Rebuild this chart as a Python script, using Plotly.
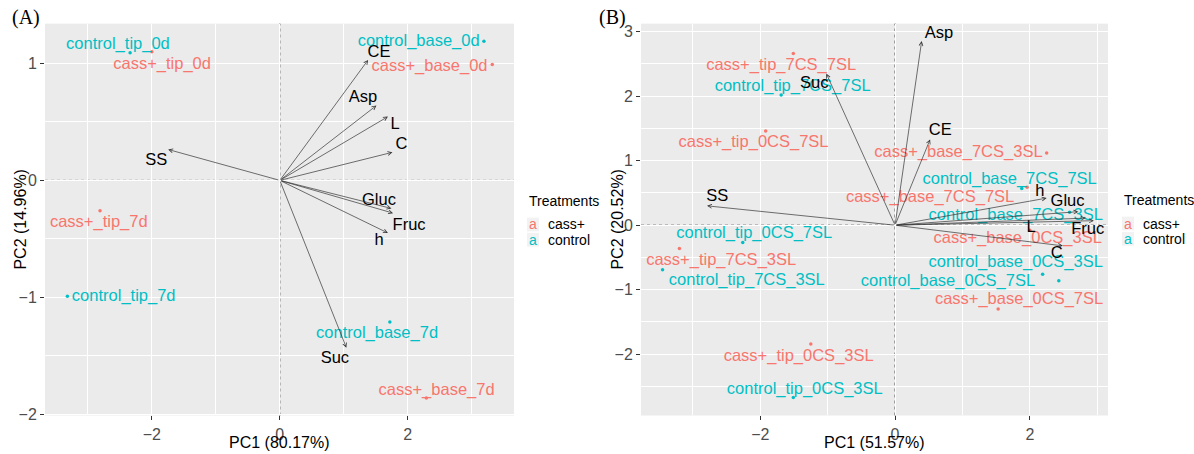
import plotly.graph_objects as go

# ---------------- Panel A data ----------------
a_names = ["control_tip_0d", "cass+_tip_0d", "control_base_0d", "cass+_base_0d",
           "cass+_tip_7d", "control_tip_7d", "control_base_7d", "cass+_base_7d"]
a_group = ["control", "cass+", "control", "cass+", "cass+", "control", "control", "cass+"]
a_pc1 = [-2.34, -2.00, 3.19, 3.32, -2.81, -3.32, 1.72, 2.29]
a_pc2 = [1.09, 1.10, 1.19, 0.99, -0.26, -0.99, -1.21, -1.86]
a_lab_x = [-2.53, -1.84, 2.17, 2.34, -2.83, -2.44, 1.52, 2.45]
a_lab_y = [1.16, 0.99, 1.18, 0.97, -0.36, -1.00, -1.31, -1.80]

a_vars = ["SS", "CE", "Asp", "L", "C", "Gluc", "Fruc", "h", "Suc"]
a_var_x = [-1.745, 1.38, 1.51, 1.69, 1.76, 1.745, 1.77, 1.69, 1.04]
a_var_y = [0.264, 1.03, 0.64, 0.545, 0.24, -0.24, -0.28, -0.45, -1.43]
a_var_lab_x = [-1.93, 1.55, 1.30, 1.80, 1.90, 1.55, 2.02, 1.55, 0.86]
a_var_lab_y = [0.17, 1.09, 0.705, 0.475, 0.306, -0.177, -0.39, -0.52, -1.525]

# ---------------- Panel B data ----------------
b_names = ["cass+_tip_7CS_7SL", "control_tip_7CS_7SL", "cass+_tip_0CS_7SL",
           "cass+_base_7CS_3SL", "control_base_7CS_7SL", "cass+_base_7CS_7SL",
           "control_base_7CS_3SL", "cass+_base_0CS_3SL", "control_base_0CS_3SL",
           "control_base_0CS_7SL", "cass+_base_0CS_7SL", "control_tip_0CS_7SL",
           "cass+_tip_7CS_3SL", "control_tip_7CS_3SL", "cass+_tip_0CS_3SL",
           "control_tip_0CS_3SL"]
b_group = ["cass+", "control", "cass+", "cass+", "control", "cass+", "control", "cass+",
           "control", "control", "cass+", "control", "cass+", "control", "cass+", "control"]
b_pc1 = [-1.51, -1.69, -1.92, 2.25, 1.88, 1.96, 2.59, 2.00, 2.19, 2.43, 1.53,
         -2.26, -3.20, -3.45, -1.25, -1.51]
b_pc2 = [2.66, 2.02, 1.46, 1.12, 0.57, 0.59, 0.20, -0.08, -0.76, -0.86, -1.30,
         -0.27, -0.36, -0.69, -1.84, -2.67]
b_lab_x = [-1.69, -1.52, -2.10, 0.94, 1.70, 0.52, 1.79, 1.82, 1.79, 0.785, 1.84,
           -2.09, -2.58, -2.20, -1.43, -1.34]
b_lab_y = [2.47, 2.14, 1.27, 1.12, 0.705, 0.42, 0.15, -0.21, -0.59, -0.88, -1.16,
           -0.14, -0.55, -0.87, -2.04, -2.56]

b_vars = ["Asp", "CE", "Suc", "SS", "h", "Gluc", "L", "Fruc", "C"]
b_var_x = [0.395, 0.52, -1.02, -2.79, 2.25, 2.72, 2.83, 2.95, 2.49]
b_var_y = [2.855, 1.33, 2.35, 0.30, 0.42, 0.21, 0.11, 0.07, -0.32]
b_var_lab_x = [0.65, 0.67, -1.20, -2.64, 2.15, 2.56, 2.02, 2.86, 2.40]
b_var_lab_y = [2.96, 1.46, 2.195, 0.44, 0.52, 0.366, -0.04, -0.07, -0.45]

# axis titles / ticks
a_xtitle = "PC1 (80.17%)"
a_ytitle = "PC2 (14.96%)"
b_xtitle = "PC1 (51.57%)"
b_ytitle = "PC2 (20.52%)"
groups = ["cass+", "control"]

COLORS = {"cass+": "#F8766D", "control": "#00BFC4"}
FONT = "Liberation Sans, Arial, sans-serif"
W, H = 1194, 454

fig = go.Figure()


def add_panel(names, grp, px, py, lx, ly, vars_, vx, vy, vlx, vly, xa, ya):
    xr = "x" if xa == "x" else "x2"
    yr = "y" if ya == "y" else "y2"
    # reference dotted lines
    fig.add_shape(type="line", xref=xr, yref=yr + " domain", x0=0, x1=0, y0=0, y1=1,
                  line=dict(color="#444444", width=1, dash="dot"), layer="below")
    fig.add_shape(type="line", xref=xr + " domain", yref=yr, x0=0, x1=1, y0=0, y1=0,
                  line=dict(color="#444444", width=1, dash="dot"), layer="below")
    # points
    for g in groups:
        idx = [i for i, v in enumerate(grp) if v == g]
        fig.add_trace(go.Scatter(
            x=[px[i] for i in idx], y=[py[i] for i in idx], mode="markers",
            marker=dict(color=COLORS[g], size=3.5), xaxis=xa, yaxis=ya,
            showlegend=False, hoverinfo="skip"))
    # sample labels
    for g in groups:
        idx = [i for i, v in enumerate(grp) if v == g]
        fig.add_trace(go.Scatter(
            x=[lx[i] for i in idx], y=[ly[i] for i in idx],
            text=[names[i] for i in idx], mode="text",
            textposition="middle center",
            textfont=dict(color=COLORS[g], size=16.5, family=FONT),
            xaxis=xa, yaxis=ya, showlegend=False, hoverinfo="skip"))
    # variable labels
    fig.add_trace(go.Scatter(
        x=vlx, y=vly, text=vars_, mode="text", textposition="middle center",
        textfont=dict(color="black", size=16.5, family=FONT),
        xaxis=xa, yaxis=ya, showlegend=False, hoverinfo="skip"))
    # arrows
    for tx, ty in zip(vx, vy):
        fig.add_annotation(x=tx, y=ty, ax=0, ay=0, xref=xr, yref=yr,
                           axref=xr, ayref=yr, text="", showarrow=True,
                           arrowhead=5, arrowsize=1.1, arrowwidth=0.7,
                           arrowcolor="#333333")


add_panel(a_names, a_group, a_pc1, a_pc2, a_lab_x, a_lab_y,
          a_vars, a_var_x, a_var_y, a_var_lab_x, a_var_lab_y, "x", "y")
add_panel(b_names, b_group, b_pc1, b_pc2, b_lab_x, b_lab_y,
          b_vars, b_var_x, b_var_y, b_var_lab_x, b_var_lab_y, "x2", "y2")

ydom = [1 - 422 / H, 1 - 24 / H]
axis_common = dict(showgrid=True, gridcolor="white", gridwidth=1.1, zeroline=False,
                   showline=False, ticks="outside", ticklen=4, tickcolor="#333333",
                   tickwidth=1, tickfont=dict(size=16, color="#4D4D4D", family=FONT))

fig.update_layout(
    width=W, height=H, autosize=False,
    margin=dict(l=0, r=0, t=0, b=0),
    paper_bgcolor="white", plot_bgcolor="#EBEBEB",
    showlegend=False,
    xaxis=dict(domain=[45 / W, 514 / W], range=[-3.67, 3.66], anchor="y",
               tickvals=[-2, 0, 2],
               minor=dict(tickvals=[-3, -1, 1, 3], showgrid=True, gridcolor="white",
                          gridwidth=0.5, ticks=""), **axis_common),
    yaxis=dict(domain=ydom, range=[-2.01, 1.34], anchor="x",
               tickvals=[-2, -1, 0, 1],
               minor=dict(tickvals=[-1.5, -0.5, 0.5], showgrid=True, gridcolor="white",
                          gridwidth=0.5, ticks=""), **axis_common),
    xaxis2=dict(domain=[641 / W, 1108 / W], range=[-3.77, 3.16], anchor="y2",
                tickvals=[-2, 0, 2],
                minor=dict(tickvals=[-3, -1, 1, 3], showgrid=True, gridcolor="white",
                           gridwidth=0.5, ticks=""), **axis_common),
    yaxis2=dict(domain=ydom, range=[-2.95, 3.125], anchor="x2",
                tickvals=[-2, -1, 0, 1, 2, 3],
                minor=dict(tickvals=[-2.5, -1.5, -0.5, 0.5, 1.5, 2.5], showgrid=True,
                           gridcolor="white", gridwidth=0.5, ticks=""), **axis_common),
)


def paper_text(px, py, text, size, color="black", family=FONT, angle=0, xanchor="center",
               yanchor="middle"):
    fig.add_annotation(x=px / W, y=1 - py / H, xref="paper", yref="paper", text=text,
                       showarrow=False, xanchor=xanchor, yanchor=yanchor,
                       textangle=angle, font=dict(size=size, color=color, family=family))


# axis titles
paper_text(279.5, 449, a_xtitle, 16)
paper_text(874.5, 449, b_xtitle, 16)
paper_text(21, 223, a_ytitle, 16, angle=-90)
paper_text(618, 223, b_ytitle, 16, angle=-90)
# panel tags
paper_text(26, 18, "(A)", 20, family="Liberation Serif, Times New Roman, serif")
paper_text(612, 18, "(B)", 20, family="Liberation Serif, Times New Roman, serif")


def legend(x0, y0):
    paper_text(x0, y0, "Treatments", 14, xanchor="left")
    for k, g in enumerate(groups):
        yy = y0 + 24 + 15.5 * k
        fig.add_shape(type="rect", xref="paper", yref="paper",
                      x0=(x0 + 0) / W, x1=(x0 + 12) / W,
                      y0=1 - (yy + 7) / H, y1=1 - (yy - 7) / H,
                      fillcolor="#F2F2F2", line=dict(width=0))
        paper_text(x0 + 6, yy, "a", 14, color=COLORS[g])
        paper_text(x0 + 19, yy, g, 14, xanchor="left")


legend(527, 204)
legend(1122, 203)

fig.write_html("out.html")
